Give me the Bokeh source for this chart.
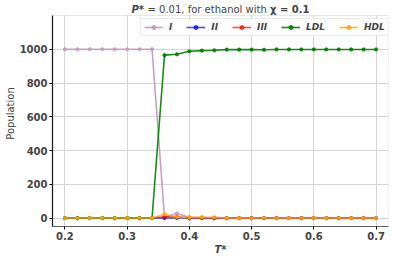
from bokeh.plotting import figure
from bokeh.models import Range1d, Label, FixedTicker, Legend, BoxAnnotation
from bokeh.embed import file_html
from bokeh.resources import INLINE

T = [0.20, 0.22, 0.24, 0.26, 0.28, 0.30, 0.32, 0.34, 0.36, 0.38, 0.40, 0.42, 0.44,
     0.46, 0.48, 0.50, 0.52, 0.54, 0.56, 0.58, 0.60, 0.62, 0.64, 0.66, 0.68, 0.70]
pop_I = [1000, 1000, 1000, 1000, 1000, 1000, 1000, 1000, 5, 27, 5, 3, 2,
         0, 0, 0, 0, 0, 0, 0, 0, 0, 0, 0, 0, 0]
pop_II = [0] * 26
pop_III = [0, 0, 0, 0, 0, 0, 0, 0, 8, 8, 0, 0, 0,
           0, 0, 0, 0, 0, 0, 0, 0, 0, 0, 0, 0, 0]
pop_LDL = [0, 0, 0, 0, 0, 0, 0, 0, 965, 970, 988, 992, 994,
           998, 998, 998, 997, 999, 999, 999, 999, 999, 999, 999, 999, 999]
pop_HDL = [0, 0, 0, 0, 0, 0, 0, 0, 22, 5, 4, 5, 4,
           0, 0, 0, 0, 0, 0, 0, 0, 0, 0, 0, 0, 0]

x_ticks = [0.2, 0.3, 0.4, 0.5, 0.6, 0.7]
y_ticks = [0, 200, 400, 600, 800, 1000]

series = [
    ("I", pop_I, "#c6a0c0", 1.0),
    ("II", pop_II, "blue", 0.7),
    ("III", pop_III, "red", 0.7),
    ("LDL", pop_LDL, "green", 0.9),
    ("HDL", pop_HDL, "orange", 0.8),
]

FONT = "DejaVu Sans"

# frame geometry (pixels)
FL, FW, FH = 52, 336, 226
X0, X1 = 0.18, 0.72
Y0, YTOP = -50, 1200          # visible data window of the axes box
TOP_PAD = 15                  # pixels above the axes box used for the title
YEND = YTOP + TOP_PAD * (YTOP - Y0) / (FH - TOP_PAD)

p = figure(frame_width=FW, frame_height=FH, output_backend="svg",
           toolbar_location=None,
           x_range=Range1d(X0, X1), y_range=Range1d(Y0, YEND),
           min_border_top=0, min_border_right=3, min_border_left=FL,
           min_border_bottom=30)
p.background_fill_color = "white"
p.border_fill_color = "white"
p.outline_line_color = None

# axes box (top/right gray edges)
p.add_layout(BoxAnnotation(left=X0, right=X1, bottom=Y0, top=YTOP,
                           fill_alpha=0, line_color="#b0b0b0", line_width=1))

items = []
for name, vals, col, a in series:
    r1 = p.line(T, vals, line_color=col, line_alpha=a, line_width=1.6)
    r2 = p.scatter(T, vals, size=3.2, fill_color=col, line_color=col,
                   fill_alpha=a, line_alpha=a)
    items.append((name, [r1, r2]))

legend = Legend(items=items, orientation="horizontal", location=(88, FH - 36))
legend.label_text_font = FONT
legend.label_text_font_style = "bold italic"
legend.label_text_font_size = "9px"
legend.glyph_width = 19
legend.glyph_height = 10
legend.label_standoff = 6
legend.label_width = 0
legend.label_height = 10
legend.spacing = 14
legend.padding = 3
legend.margin = 0
legend.border_line_color = "#d8d8d8"
legend.border_line_width = 1
legend.background_fill_alpha = 0.9
p.add_layout(legend)

for ax in (p.xaxis, p.yaxis):
    ax.major_label_text_font = FONT
    ax.major_label_text_font_style = "bold"
    ax.major_label_text_font_size = "10px"
    ax.axis_label_text_font = FONT
    ax.axis_label_text_font_size = "10px"
    ax.minor_tick_line_color = None
    ax.major_tick_out = 3
    ax.major_tick_in = 0
    ax.axis_line_width = 1.2
    ax.major_label_standoff = 2
    ax.axis_label_standoff = 1

p.xaxis.ticker = FixedTicker(ticks=x_ticks)
p.yaxis.ticker = FixedTicker(ticks=y_ticks)
p.yaxis.bounds = (Y0, YTOP)
p.xaxis.axis_label = "T*"
p.xaxis.axis_label_text_font_style = "bold italic"
p.yaxis.axis_label = "Population"
p.yaxis.axis_label_text_font_style = "normal"
p.xaxis.axis_line_color = "#555555"
p.yaxis.axis_line_color = "black"

p.xgrid.grid_line_color = "#d5d5d5"
p.ygrid.grid_line_color = "#d5d5d5"
p.xgrid.ticker = FixedTicker(ticks=x_ticks)
p.ygrid.ticker = FixedTicker(ticks=y_ticks)
try:
    p.xgrid.cross_bounds = (Y0, YTOP)
except Exception:
    pass


def px_x(px):
    return X0 + (px - FL) / FW * (X1 - X0)


title_y = YTOP + 6 * (YTOP - Y0) / (FH - TOP_PAD)
title_parts = [
    ("P*", "bold italic", 131),
    ("= 0.01, for ethanol with", "normal", 147),
    ("χ = 0.1", "bold", 269.5),
]
for txt, style, sx in title_parts:
    p.add_layout(Label(x=px_x(sx), y=title_y, text=txt,
                       text_font=FONT, text_font_style=style, text_font_size="10px",
                       text_baseline="middle", text_align="left"))

open("out.html", "w").write(file_html(p, INLINE))
